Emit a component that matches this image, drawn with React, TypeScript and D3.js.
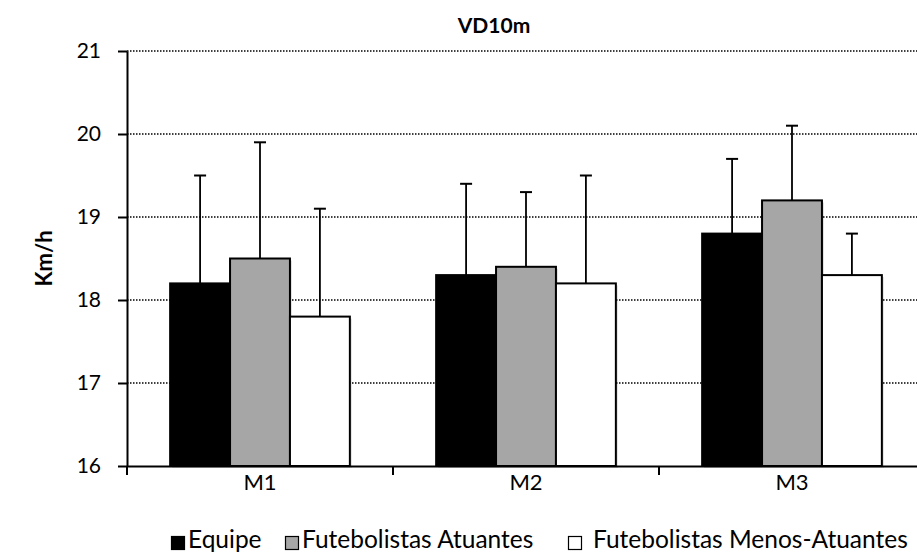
import { useEffect, useRef } from "react";
import * as d3 from "d3";

const categories = ["M1", "M2", "M3"];
const seriesNames = ["Equipe", "Futebolistas Atuantes", "Futebolistas Menos-Atuantes"];
const seriesFills = ["#000000", "#a6a6a6", "#ffffff"];
const equipeValues = [18.2, 18.3, 18.8];
const equipeErrors = [1.3, 1.1, 0.9];
const atuantesValues = [18.5, 18.4, 19.2];
const atuantesErrors = [1.4, 0.9, 0.9];
const menosValues = [17.8, 18.2, 18.3];
const menosErrors = [1.3, 1.3, 0.5];
const yTicks = [16, 17, 18, 19, 20, 21];

const FONT = "Lato, 'Open Sans', sans-serif";

export default function App(): JSX.Element {
  const svgRef = useRef<SVGSVGElement | null>(null);

  useEffect(() => {
    const svg = d3.select(svgRef.current);
    svg.selectAll("*").remove();

    const width = 917;
    // the original plot runs a little past the right edge of the picture
    const plotLeft = 127;
    const plotRight = 925;
    const plotTop = 51;
    const plotBottom = 466;

    const values = [equipeValues, atuantesValues, menosValues];
    const errors = [equipeErrors, atuantesErrors, menosErrors];

    const x = d3.scaleBand<string>().domain(categories).range([plotLeft, plotRight]);

    const inner = d3
      .scaleBand<number>()
      .domain([0, 1, 2])
      .range([0, x.bandwidth()])
      .paddingInner(0)
      .paddingOuter(0.72);

    const y = d3.scaleLinear().domain([16, 21]).range([plotBottom, plotTop]);

    // gridlines
    svg
      .append("g")
      .selectAll("line")
      .data(yTicks.filter((t) => t > 16))
      .join("line")
      .attr("x1", plotLeft)
      .attr("x2", width)
      .attr("y1", (t) => y(t))
      .attr("y2", (t) => y(t))
      .attr("stroke", "#000")
      .attr("stroke-width", 1.3)
      .attr("stroke-dasharray", "1.5,1.5");

    // bars with error bars
    const barGroup = svg.append("g");
    categories.forEach((cat, ci) => {
      values.forEach((series, si) => {
        const bx = (x(cat) ?? 0) + (inner(si) ?? 0);
        const bw = inner.bandwidth();
        const v = series[ci];
        const top = y(v + errors[si][ci]);
        const cx = bx + bw / 2;
        barGroup
          .append("line")
          .attr("x1", cx)
          .attr("x2", cx)
          .attr("y1", y(v))
          .attr("y2", top)
          .attr("stroke", "#000")
          .attr("stroke-width", 1.8);
        barGroup
          .append("line")
          .attr("x1", cx - 6)
          .attr("x2", cx + 6)
          .attr("y1", top)
          .attr("y2", top)
          .attr("stroke", "#000")
          .attr("stroke-width", 2);
        barGroup
          .append("rect")
          .attr("x", bx + 2)
          .attr("y", y(v) + 2)
          .attr("width", bw)
          .attr("height", y(16) - y(v))
          .attr("fill", "#000")
          .attr("opacity", 0.12);
        barGroup
          .append("rect")
          .attr("x", bx)
          .attr("y", y(v))
          .attr("width", bw)
          .attr("height", y(16) - y(v))
          .attr("fill", seriesFills[si])
          .attr("stroke", "#000")
          .attr("stroke-width", 2);
      });
    });

    // y axis
    const yAxis = svg
      .append("g")
      .attr("transform", `translate(${plotLeft},0)`)
      .call(d3.axisLeft(y).tickValues(yTicks).tickSize(9).tickSizeOuter(0).tickPadding(17).tickFormat(d3.format("d")));
    yAxis.select(".domain").attr("stroke-width", 2);
    yAxis.selectAll(".tick line").attr("stroke-width", 2);
    yAxis
      .selectAll("text")
      .attr("font-family", FONT)
      .attr("font-size", 21)
      .attr("fill", "#000");

    // x axis
    const xAxis = svg
      .append("g")
      .attr("transform", `translate(0,${y(16)})`)
      .call(d3.axisBottom(x).tickSize(0).tickSizeOuter(0).tickPadding(8));
    xAxis.select(".domain").attr("stroke-width", 2);
    xAxis
      .selectAll("text")
      .attr("font-family", FONT)
      .attr("font-size", 22)
      .attr("fill", "#000");
    xAxis
      .selectAll("line.sep")
      .data([...categories.map((c) => x(c) ?? 0), plotRight])
      .join("line")
      .attr("class", "sep")
      .attr("x1", (d) => d)
      .attr("x2", (d) => d)
      .attr("y1", 0)
      .attr("y2", 9)
      .attr("stroke", "#000")
      .attr("stroke-width", 2);

    // title
    svg
      .append("text")
      .attr("x", 494)
      .attr("y", 33)
      .attr("text-anchor", "middle")
      .attr("font-family", FONT)
      .attr("font-weight", "bold")
      .attr("font-size", 21)
      .text("VD10m");

    // y label
    svg
      .append("text")
      .attr("transform", `translate(52,${(plotTop + plotBottom) / 2}) rotate(-90)`)
      .attr("text-anchor", "middle")
      .attr("font-family", FONT)
      .attr("font-weight", "bold")
      .attr("font-size", 22)
      .text("Km/h");

    // legend
    const legendSquareX = [171, 285, 568];
    const legendTextX = [188, 302, 593];
    const legend = svg.append("g");
    seriesNames.forEach((name, i) => {
      legend
        .append("rect")
        .attr("x", legendSquareX[i] + 0.5)
        .attr("y", 536.5)
        .attr("width", 13)
        .attr("height", 13)
        .attr("fill", seriesFills[i])
        .attr("stroke", "#000")
        .attr("stroke-width", 1.2);
      legend
        .append("text")
        .attr("x", legendTextX[i])
        .attr("y", 548)
        .attr("font-family", FONT)
        .attr("font-size", 24.5)
        .text(name);
    });
  }, []);

  return (
    <svg
      ref={svgRef}
      width={917}
      height={554}
      viewBox="0 0 917 554"
      style={{ position: "absolute", left: 0, top: 0, background: "#fff", overflow: "hidden" }}
    />
  );
}
